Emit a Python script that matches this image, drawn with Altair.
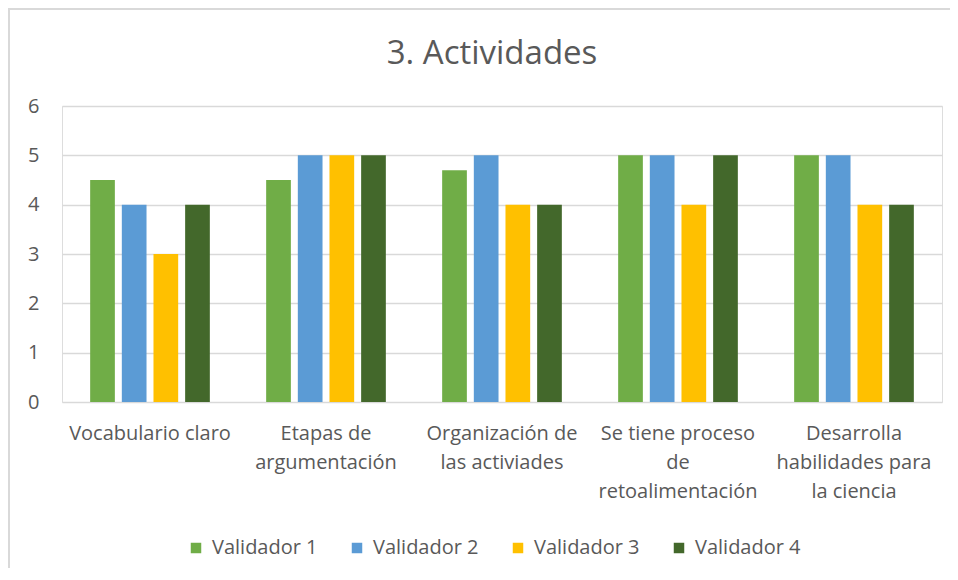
import altair as alt
import pandas as pd

categories = [
    "Vocabulario claro",
    "Etapas de\nargumentación",
    "Organización de\nlas activiades",
    "Se tiene proceso\nde\nretoalimentación",
    "Desarrolla\nhabilidades para\nla ciencia",
]
series = ["Validador 1", "Validador 2", "Validador 3", "Validador 4"]
v1 = [4.5, 4.5, 4.7, 5, 5]
v2 = [4, 5, 5, 5, 5]
v3 = [3, 5, 4, 4, 4]
v4 = [4, 5, 4, 5, 4]
colors = ["#70AD47", "#5B9BD5", "#FFC000", "#43682B"]
y_ticks = [0, 1, 2, 3, 4, 5, 6]

rows = []
for s, vals in zip(series, [v1, v2, v3, v4]):
    for c, v in zip(categories, vals):
        rows.append({"cat": c, "serie": s, "valor": v})
df = pd.DataFrame(rows)

W, H = 880, 296
FONT = "Open Sans"
TXT = "#595959"

bars = alt.Chart(df).mark_bar().encode(
    x=alt.X("cat:N", sort=categories,
            scale=alt.Scale(paddingInner=0.32, paddingOuter=0.16),
            axis=alt.Axis(title=None, labelAngle=0, labelExpr="split(datum.value, '\\n')",
                          labelFontSize=20, labelColor=TXT, labelFont=FONT,
                          labelLineHeight=29, labelPadding=21, ticks=False, domain=False,
                          labelBaseline="top")),
    xOffset=alt.XOffset("serie:N", sort=series, scale=alt.Scale(paddingInner=0.22)),
    y=alt.Y("valor:Q", scale=alt.Scale(domain=[0, 6], nice=False),
            axis=alt.Axis(title=None, values=y_ticks, labelOverlap=False,
                          labelFontSize=20, labelColor=TXT, labelFont=FONT,
                          ticks=False, domain=False, labelPadding=23,
                          gridColor="#D9D9D9", gridWidth=1.5)),
    color=alt.Color("serie:N", sort=series,
                    scale=alt.Scale(domain=series, range=colors),
                    legend=alt.Legend(title=None, orient="none", legendX=124, legendY=432,
                                      direction="horizontal", columns=4,
                                      symbolType="square", symbolSize=110,
                                      symbolStrokeWidth=0, labelFontSize=20,
                                      labelColor=TXT, labelFont=FONT,
                                      columnPadding=29, labelOffset=6)),
)

border = alt.Chart(pd.DataFrame({"a": [0]})).mark_rect(
    fill=None, stroke="#D9D9D9", strokeWidth=2
).encode(
    x=alt.value(-53), x2=alt.value(W + 60), y=alt.value(-97), y2=alt.value(H + 260)
)

chart = alt.layer(border, bars).properties(
    width=W, height=H,
    title=alt.Title("3. Actividades", fontSize=33, font=FONT, color=TXT,
                    fontWeight="normal", anchor="middle", frame="group",
                    baseline="alphabetic", offset=0, dy=89, dx=-10),
    autosize=alt.AutoSizeParams(type="none"),
    padding={"left": 54, "top": 98, "right": 8, "bottom": 166},
).configure_view(stroke=None).configure(background="white")

chart.save("out.html", embed_options={"renderer": "svg", "actions": False})
